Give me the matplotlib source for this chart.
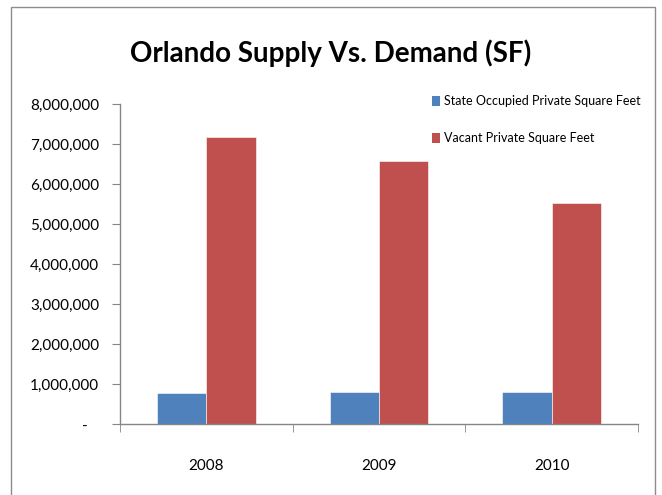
import matplotlib
matplotlib.use("Agg")
import numpy as np
from matplotlib import pyplot
from matplotlib.patches import Rectangle, Patch
from matplotlib.ticker import FuncFormatter, FixedLocator

years = ["2008", "2009", "2010"]
occupied_sf = [775000, 815000, 815000]
vacant_sf = [7170000, 6580000, 5520000]
series_names = ["State Occupied Private Square Feet", "Vacant Private Square Feet"]
y_ticks = [0, 1000000, 2000000, 3000000, 4000000, 5000000, 6000000, 7000000, 8000000]

font = ["Lato", "DejaVu Sans"]
blue = "#4f81bd"
red = "#c0504d"
axis_grey = "#868686"


def fmt_tick(v, pos):
    if v == 0:
        return "-   "
    return "{:,.0f}".format(v)


fig = pyplot.figure(figsize=(6.62, 4.95), dpi=100)
fig.patches.append(Rectangle((11 / 662., -0.05), 644 / 662., 1.05 - 7 / 495.,
                             transform=fig.transFigure, fill=False,
                             edgecolor="#8c8c8c", linewidth=1.0))
ax = fig.add_axes([120 / 662., 1 - 424.3 / 495., 518 / 662., 320.3 / 495.])

x = np.arange(len(years))
width = 1 / 3.5
ax.bar(x - width / 2, occupied_sf, width, color=blue, edgecolor="white", linewidth=0.4)
ax.bar(x + width / 2, vacant_sf, width, color=red, edgecolor="white", linewidth=0.4)

ax.set_xlim(-0.5, len(years) - 0.5)
ax.set_ylim(0, 8000000)
ax.set_yticks(y_ticks)
ax.yaxis.set_major_formatter(FuncFormatter(fmt_tick))
ax.set_xticks(x)
ax.set_xticklabels(years)
ax.xaxis.set_minor_locator(FixedLocator(np.arange(-0.5, len(years), 1.0)))

for side in ["top", "right"]:
    ax.spines[side].set_visible(False)
for side in ["left", "bottom"]:
    ax.spines[side].set_color(axis_grey)
    ax.spines[side].set_linewidth(1.0)

ax.tick_params(axis="y", length=6, color=axis_grey, pad=9, labelsize=11)
ax.tick_params(axis="x", which="major", length=0, pad=25, labelsize=11)
ax.tick_params(axis="x", which="minor", length=6, color=axis_grey)
for lbl in ax.get_xticklabels() + ax.get_yticklabels():
    lbl.set_family(font)

fig.text(0.5, 1 - 53 / 495., "Orlando Supply Vs. Demand (SF)", ha="center", va="center",
         fontsize=20, fontweight="bold", family=font)

handles = [Patch(facecolor=blue), Patch(facecolor=red)]
leg = ax.legend(handles, series_names, loc="upper left",
                bbox_to_anchor=(432 / 662., 1 - 95 / 495.), bbox_transform=fig.transFigure,
                frameon=False, handlelength=0.6, handleheight=0.9, handletextpad=0.35,
                labelspacing=2.0, borderaxespad=0, borderpad=0,
                prop={"family": font, "size": 9})

fig.savefig("out.png", dpi=100)
